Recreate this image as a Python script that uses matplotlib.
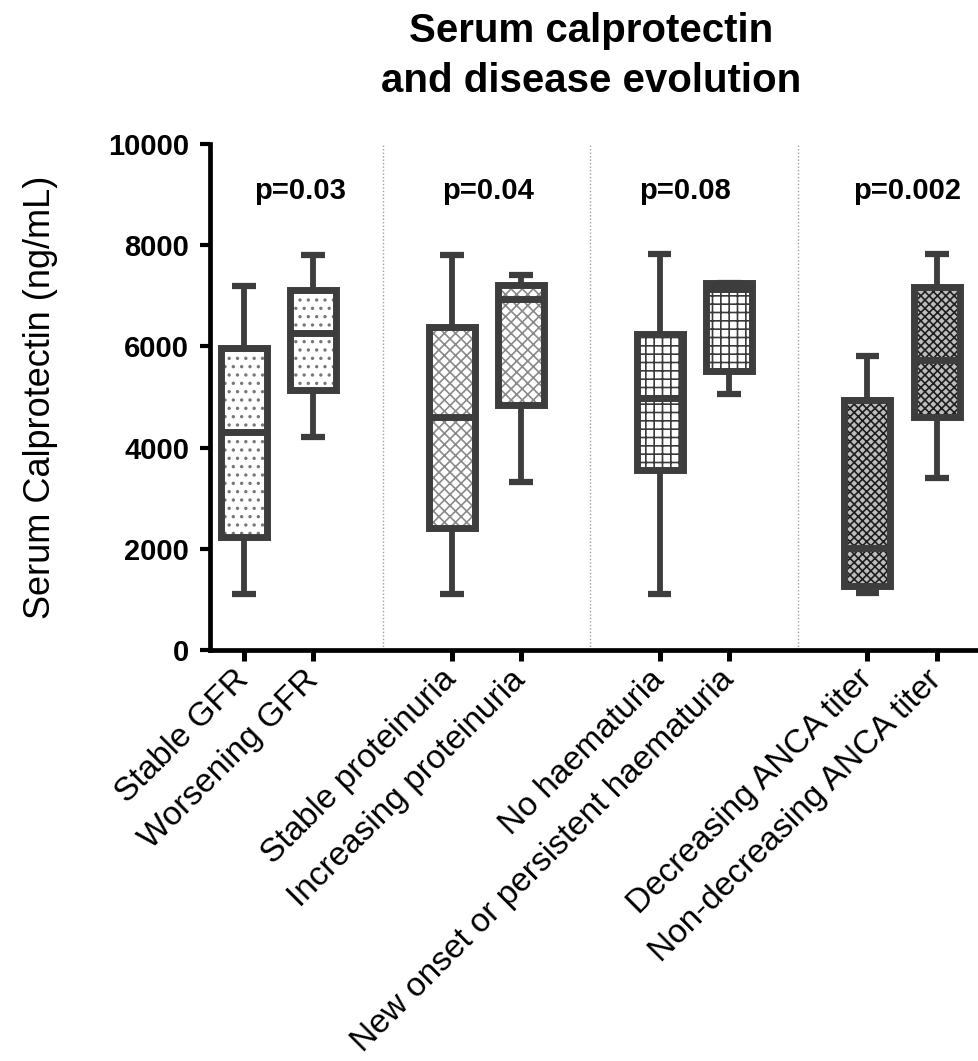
import numpy as np
import matplotlib.pyplot as plt
from matplotlib.patches import PathPatch

plt.rcParams['font.family'] = ['Liberation Sans', 'DejaVu Sans']
plt.rcParams['hatch.linewidth'] = 1.2

# box summary (ng/mL)
groups = ['Stable GFR', 'Worsening GFR',
          'Stable proteinuria', 'Increasing proteinuria',
          'No haematuria', 'New onset or persistent haematuria',
          'Decreasing ANCA titer', 'Non-decreasing ANCA titer']
whis_lo = [1110, 4200, 1110, 3320, 1110, 5050, 1120, 3390]
q1      = [2230, 5140, 2420, 4850, 3550, 5515, 1260, 4610]
median  = [4310, 6260, 4610, 6930, 4980, 7130, 2010, 5730]
q3      = [5970, 7120, 6380, 7220, 6245, 7260, 4950, 7170]
whis_hi = [7200, 7815, 7815, 7405, 7830, 7260, 5800, 7830]

positions = [1, 2, 4, 5, 7, 8, 10, 11]
separators = [3, 6, 9]

p_texts = ['p=0.03', 'p=0.04', 'p=0.08', 'p=0.002']
p_x = [1.81, 4.52, 7.36, 10.57]
p_y = 9070

hatches = ['..', '..', 'xxx', 'xxx', '++', '++', 'xxxx', 'xxxx']
hatch_cols = ['#777777', '#777777', '#8a8a8a', '#8a8a8a',
              '#3a3a3a', '#3a3a3a', '#1e1e1e', '#1e1e1e']
fill_cols = ['white', 'white', 'white', 'white',
             'white', 'white', '#bdbdbd', '#bdbdbd']

dark = '#3d3d3d'

fig = plt.figure(figsize=(9.79, 10.61), dpi=100)
ax = fig.add_axes([0.2145, 0.3874, 0.7855, 0.4769])

stats = []
for i in range(len(groups)):
    stats.append(dict(whislo=whis_lo[i], q1=q1[i], med=median[i],
                      q3=q3[i], whishi=whis_hi[i], fliers=[]))

bp = ax.bxp(stats, positions=positions, widths=0.665, capwidths=0.34,
            patch_artist=True, showfliers=False,
            boxprops=dict(facecolor='none', edgecolor=dark, linewidth=5),
            medianprops=dict(color=dark, linewidth=5, solid_capstyle='butt'),
            whiskerprops=dict(color=dark, linewidth=4.2),
            capprops=dict(color=dark, linewidth=4.5, solid_capstyle='butt'))

# hatched fill behind each box outline
for box, h, hc, fc in zip(bp['boxes'], hatches, hatch_cols, fill_cols):
    fill = PathPatch(box.get_path(), transform=ax.transData,
                     facecolor=fc, edgecolor=hc, linewidth=0,
                     hatch=h, zorder=1.5)
    ax.add_patch(fill)
    box.set_zorder(2.5)
for m in bp['medians']:
    m.set_zorder(2.6)

ax.vlines(separators, 0, 10000, colors='#a0a0a0',
          linestyles=(0, (1, 1.5)), linewidth=1, zorder=0.5)

for t, x in zip(p_texts, p_x):
    ax.text(x, p_y, t, ha='center', va='center', fontsize=21,
            fontweight='bold')

ax.set_xlim(0.51, 11.61)
ax.set_ylim(0, 10000)
ax.set_yticks(np.arange(0, 10001, 2000))
ax.set_yticklabels([str(v) for v in range(0, 10001, 2000)],
                   fontsize=21, fontweight='bold')
ax.set_xticks(positions)
ax.set_xticklabels(groups, rotation=45, ha='right', va='center',
                   rotation_mode='anchor', fontsize=24)

ax.spines['top'].set_visible(False)
ax.spines['right'].set_visible(False)
ax.spines['left'].set_linewidth(3.4)
ax.spines['bottom'].set_linewidth(3.4)
ax.tick_params(axis='y', length=7, width=3, pad=8)
ax.tick_params(axis='x', length=8, width=3.6, pad=10)

ax.set_ylabel('Serum Calprotectin (ng/mL)', fontsize=26, labelpad=36)

fig.text(0.604, 1 - 92 / 1061, 'Serum calprotectin\nand disease evolution',
         ha='center', va='baseline', fontsize=29, fontweight='bold',
         linespacing=1.4)

fig.savefig('out.png', dpi=100)
